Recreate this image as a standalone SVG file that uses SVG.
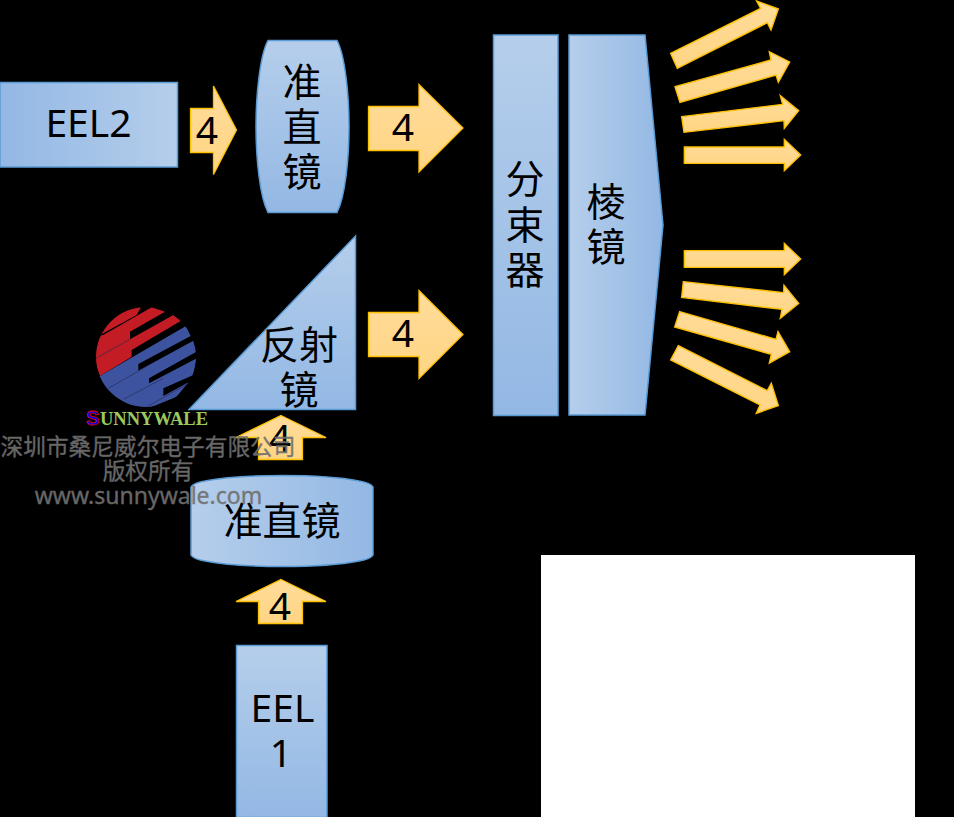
<svg xmlns="http://www.w3.org/2000/svg" width="954" height="817" viewBox="0 0 954 817">
<style>
.b{stroke:#5B9BD5;stroke-width:1.5}
.a{fill:url(#ag);stroke:#FFC000;stroke-width:1.3}
.r{fill:url(#ag);stroke:#FFC000;stroke-width:4.2}
.t{font-family:"Noto Sans","Noto Sans CJK SC",sans-serif;font-size:39px;fill:#000;text-anchor:middle}
.w{font-family:"Noto Sans","Noto Sans CJK SC",sans-serif;font-size:22.7px;fill:#707070;stroke:#707070;stroke-width:.35;text-anchor:middle;opacity:.92}
</style>
<defs>
<linearGradient id="h" x1="0" x2="1" y1="0" y2="0"><stop offset="0" stop-color="#93B8E4"/><stop offset="1" stop-color="#B5CEEB"/></linearGradient>
<linearGradient id="hr" x1="0" x2="1" y1="0" y2="0"><stop offset="0" stop-color="#B5CEEB"/><stop offset="1" stop-color="#93B8E4"/></linearGradient>
<linearGradient id="v" x1="0" x2="0" y1="0" y2="1"><stop offset="0" stop-color="#B5CEEB"/><stop offset="1" stop-color="#93B8E4"/></linearGradient>
<linearGradient id="ag" x1="0" x2="0" y1="0" y2="1"><stop offset="0" stop-color="#FFDC9A"/><stop offset="1" stop-color="#FFD584"/></linearGradient>
<clipPath id="ball"><circle cx="146" cy="357" r="50"/></clipPath>
</defs>
<rect width="954" height="817" fill="#000"/>
<rect id="blank" x="541" y="555" width="374" height="262" fill="#fff"/>
<g id="connectors">
<polygon class="a" points="190.500,108.500 213.500,108.500 213.500,86 236.500,130 213.500,174.500 213.500,152.500 190.500,152.500"/>
<polygon class="a" points="368.500,106.500 419,106.500 419,84.500 463,128 419,172 419,150.500 368.500,150.500"/>
<polygon class="a" points="368.500,312.500 419,312.500 419,290.500 463,334.500 419,378.500 419,356.500 368.500,356.500"/>
<polygon class="a" points="281,415.500 326,437.500 302.500,437.500 302.500,459.500 258.500,459.500 258.500,437.500 236,437.500"/>
<polygon class="a" points="281,579.500 326,601.500 302.500,601.500 302.500,623.500 258.500,623.500 258.500,601.500 236,601.500"/>
<g transform="translate(640,0) scale(.33333)">
<polygon class="r" points="92,160 362,25 350,3 415,27 393,90 382,68 112,205"/>
<polygon class="r" points="105,260 393,180 388,155 449,186 415,247 408,225 120,307"/>
<polygon class="r" points="125,350 428,313 421,287 476,332 433,385 432,362 132,397"/>
<polygon class="r" points="133,441 433,441 433,418 482,465 433,512 433,490 133,490"/>
</g>
<g transform="translate(640,230) scale(.33333)">
<polygon class="r" points="133,62 433,62 433,40 482,87 433,134 433,112 133,112"/>
<polygon class="r" points="130,155 431,188 432,166 476,220 421,265 426,238 125,202"/>
<polygon class="r" points="119,245 408,328 414,305 449,365 388,399 394,373 104,291"/>
<polygon class="r" points="115,347 382,482 394,460 415,527 349,550 360,525 92,390"/>
</g>
</g>
<g id="eel2"><rect class="b" x="0" y="82.500" width="177.500" height="84.500" fill="url(#h)"/><text class="t" x="88.500" y="137">EEL2</text></g>
<g id="lens1"><path class="b" fill="url(#v)" d="M268,40.500H337C345,55 349,95 349,126C349,160 345,197 337,212.500H268C260,197 256,160 256,126C256,95 260,55 268,40.500Z"/>
<text class="t" x="302" y="96">准</text><text class="t" x="302" y="141">直</text><text class="t" x="302" y="186">镜</text></g>
<g id="mirror"><polygon class="b" fill="url(#v)" points="355.500,236 355.500,409.500 189,409.500"/><text class="t" x="299" y="359">反射</text><text class="t" x="299" y="404">镜</text></g>
<g id="lens2"><path class="b" fill="url(#hr)" d="M191,487Q193,483 205,481C225,477 250,475.500 282,475.500C314,475.500 339,477 359,481Q371,483 373,487V555Q371,559 359,561C339,565 314,566.500 282,566.500C250,566.500 225,565 205,561Q193,559 191,555Z"/><text class="t" x="282" y="535">准直镜</text></g>
<g id="eel1"><rect class="b" x="236.500" y="645.500" width="90.500" height="172" fill="url(#v)"/><text class="t" x="282.500" y="722">EEL</text><text class="t" x="281" y="767">1</text></g>
<g id="splitter"><rect class="b" x="493.500" y="35" width="64.500" height="380.500" fill="url(#v)"/><text class="t" x="525" y="193">分</text><text class="t" x="525" y="239">束</text><text class="t" x="525" y="284">器</text></g>
<g id="prism"><polygon class="b" fill="url(#hr)" points="569,35 645,35 663,225 645,415 569,415"/><text class="t" x="606" y="216">棱</text><text class="t" x="606" y="261">镜</text></g>
<g id="counts">
<text class="t" x="207" y="144">4</text><text class="t" x="403" y="141">4</text><text class="t" x="403" y="347">4</text><text class="t" x="280" y="452">4</text><text class="t" x="280" y="620">4</text>
</g>
<g id="logo">
<g clip-path="url(#ball)"><g transform="translate(80,300) scale(.33333)">
<polygon fill="#C41C24" points="183,22 170,45 60,105 40,80 100,20"/>
<polygon fill="#C41C24" points="215,22 255,35 150,95 150,118 280,45 303,62 155,150 155,170 60,228 40,175 40,110 70,105"/>
<polygon fill="#3D53A0" points="60,228 318,78 332,108 175,192 175,212 340,122 350,155 207,235 207,250 350,175 340,225 250,265 250,288 325,247 290,290 205,325 100,325 40,240"/>
<path d="M47,175L150,118M85,265L207,195M130,298L250,235M205,318L325,250" stroke="#2B2B55" stroke-width="2" fill="none"/>
</g></g>
<text x="86" y="425" font-family="Liberation Sans,sans-serif" font-size="20" font-weight="700" fill="#0000F0" stroke="#E00000" stroke-width=".8">S</text>
<text x="100" y="425" font-family="Liberation Serif,serif" font-size="19" font-weight="700" fill="#9CC860" textLength="108" lengthAdjust="spacingAndGlyphs">UNNYWALE</text>
</g>
<g id="watermark">
<text class="w" x="148" y="455">深圳市桑尼威尔电子有限公司</text>
<text class="w" x="148" y="479">版权所有</text>
<text class="w" x="148.500" y="504" style="font-size:23px">www.sunnywale.com</text>
</g>
</svg>
